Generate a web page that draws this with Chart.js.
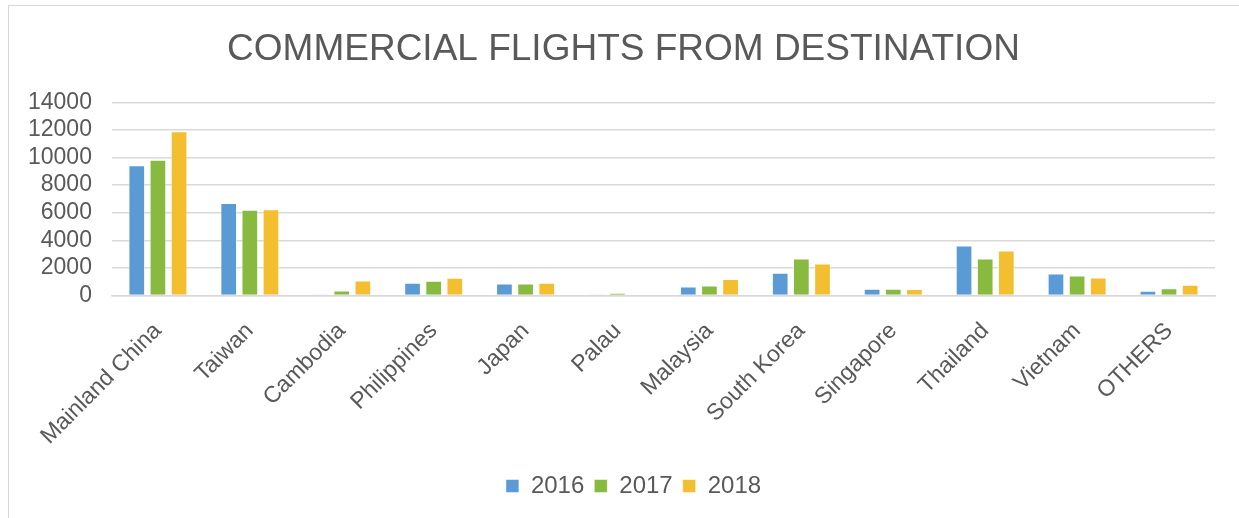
<!DOCTYPE html>
<html>
<head>
<meta charset="utf-8">
<script src="https://cdn.jsdelivr.net/npm/chart.js@4/dist/chart.umd.min.js"></script>
<style>
  html, body { margin: 0; padding: 0; background: #fff; overflow: hidden; }
  #wrap { position: absolute; left: 0; top: 0; width: 1239px; height: 518px; }
  #frame { position: absolute; left: 8px; top: 5px; width: 1300px; height: 600px;
           border-left: 1px solid #d9d9d9; border-top: 1px solid #d9d9d9; pointer-events: none; }
</style>
</head>
<body>
<div id="wrap"><canvas id="chart" width="1239" height="518"></canvas></div>
<div id="frame"></div>
<script>
const destinations = ["Mainland China", "Taiwan", "Cambodia", "Philippines", "Japan", "Palau",
  "Malaysia", "South Korea", "Singapore", "Thailand", "Vietnam", "OTHERS"];
const years = ["2016", "2017", "2018"];
const flights2016 = [9450, 6700, 70, 920, 870, 70, 650, 1640, 480, 3620, 1590, 340];
const flights2017 = [9850, 6220, 360, 1060, 870, 200, 720, 2680, 480, 2680, 1450, 530];
const flights2018 = [11900, 6260, 1090, 1290, 920, 0, 1200, 2320, 470, 3260, 1300, 770];
const yTicks = [0, 2000, 4000, 6000, 8000, 10000, 12000, 14000];

const colors = ["#5B9BD5", "#88BA40", "#F3BE2F"];
const font = "'Liberation Sans', Arial, sans-serif";
const textColor = "#595959";

Chart.defaults.font.family = font;
Chart.defaults.color = textColor;

let series = [flights2016, flights2017, flights2018];

// nudge title and legend a bit to the right, like the original
const shiftBlocks = {
  id: "shiftBlocks",
  afterLayout(chart) {
    chart.titleBlock.left += 12;
    chart.titleBlock.right += 12;
    chart.legend.left += 22;
    chart.legend.right += 22;
  }
};

new Chart(document.querySelector("#chart").getContext("2d"), {
  type: "bar",
  data: {
    labels: destinations,
    datasets: series.map((values, i) => ({
      label: years[i],
      data: values,
      backgroundColor: colors[i],
      borderColor: "rgba(255,255,255,0.5)",
      borderWidth: 1,
      categoryPercentage: 0.69,
      barPercentage: 0.79
    }))
  },
  plugins: [shiftBlocks],
  options: {
    responsive: false,
    animation: false,
    layout: { padding: { left: 8, right: 24, top: 5, bottom: 10 } },
    plugins: {
      title: {
        display: true,
        text: "COMMERCIAL FLIGHTS FROM DESTINATION",
        color: textColor,
        font: { size: 37, weight: "normal" },
        padding: { top: 23, bottom: 30 }
      },
      legend: {
        position: "bottom",
        labels: {
          color: textColor,
          font: { size: 24 },
          boxWidth: 13,
          boxHeight: 13,
          padding: 10
        }
      },
      tooltip: { enabled: false }
    },
    scales: {
      x: {
        grid: { display: false },
        border: { color: "#d9d9d9", width: 1.5 },
        ticks: {
          color: textColor,
          font: { size: 23 },
          maxRotation: 45,
          minRotation: 45,
          padding: 14,
          autoSkip: false
        }
      },
      y: {
        min: 0,
        max: 14000,
        afterBuildTicks: axis => { axis.ticks = yTicks.map(v => ({ value: v })); },
        grid: { color: "#d9d9d9", lineWidth: 1.5, drawTicks: false },
        border: { display: false },
        ticks: {
          color: textColor,
          font: { size: 23 },
          padding: 20,
          autoSkip: false,
          callback: value => String(value)
        }
      }
    }
  }
});
</script>
</body>
</html>
